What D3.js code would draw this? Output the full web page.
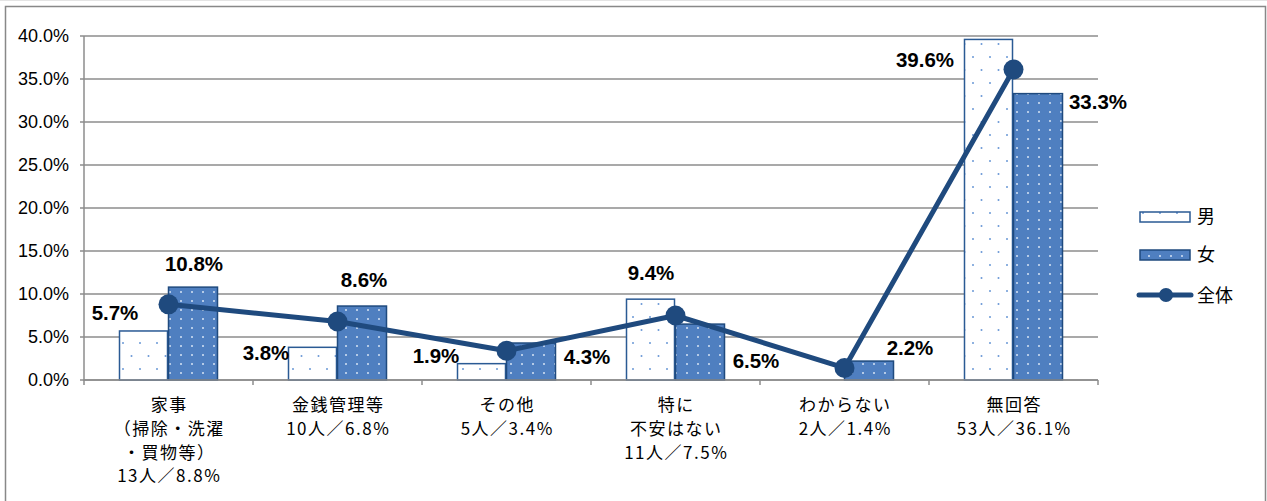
<!DOCTYPE html>
<html><head><meta charset="utf-8">
<script src="https://cdn.jsdelivr.net/npm/d3@7"></script>
<style>body{margin:0;background:#fff}svg{display:block}</style>
</head><body>
<svg id="c" width="1267" height="501"></svg>
<script>
const categories = [
  ["家事","（掃除・洗濯","・買物等）","13人／8.8%"],
  ["金銭管理等","10人／6.8%"],
  ["その他","5人／3.4%"],
  ["特に","不安はない","11人／7.5%"],
  ["わからない","2人／1.4%"],
  ["無回答","53人／36.1%"]
];
const maleValues   = [5.7, 3.8, 1.9, 9.4, 0, 39.6];
const femaleValues = [10.8, 8.6, 4.3, 6.5, 2.2, 33.3];
const totalValues  = [8.8, 6.8, 3.4, 7.5, 1.4, 36.1];
const yTicks = [0,5,10,15,20,25,30,35,40];
const seriesNames = ["男","女","全体"];
// label offsets (px) relative to bar-top center
const maleLabelOffsets   = [[-29,-18],[-47,6],[-46,-8],[0,-26],null,[-64,20]];
const femaleLabelOffsets = [[1,-23],[2,-26],[56,14],[56,37],[41,-13],[60,8]];

const svg = d3.select("#c");
const defs = svg.append("defs");
const pm = defs.append("pattern").attr("id","pm").attr("patternUnits","userSpaceOnUse")
  .attr("width",17).attr("height",26).attr("x",0).attr("y",0);
pm.append("rect").attr("width",17).attr("height",26).attr("fill","#fff");
pm.append("circle").attr("cx",4).attr("cy",5).attr("r",1).attr("fill","#6a98d6");
pm.append("circle").attr("cx",12.5).attr("cy",18).attr("r",1).attr("fill","#6a98d6");
const pf = defs.append("pattern").attr("id","pf").attr("patternUnits","userSpaceOnUse")
  .attr("width",11).attr("height",9);
pf.append("rect").attr("width",11).attr("height",9).attr("fill","#4f7fc0");
pf.append("circle").attr("cx",5).attr("cy",4).attr("r",1).attr("fill","#d6e3f5");

// outer frame
svg.append("line").attr("x1",0).attr("x2",1267).attr("y1",0.5).attr("y2",0.5).attr("stroke","#e4e4e4");
svg.append("path").attr("d","M5.5,501 V6.5 H1265.5 V501").attr("fill","none").attr("stroke","#888").attr("stroke-width",1.5);

const L=84, R=1098, T=36, B=380;
const x = d3.scaleBand().domain(d3.range(categories.length)).range([L,R]).paddingInner(0).paddingOuter(0);
const y = d3.scaleLinear().domain([0,40]).range([B,T]);
const bw = 49;

// gridlines
svg.append("g").selectAll("line").data(yTicks).join("line")
  .attr("x1",L-4).attr("x2",R).attr("y1",d=>y(d)).attr("y2",d=>y(d))
  .attr("stroke","#8c8c8c").attr("stroke-width",1.5);
// y axis line
svg.append("line").attr("x1",L).attr("x2",L).attr("y1",T).attr("y2",B+1).attr("stroke","#8c8c8c").attr("stroke-width",1.5);
// y labels
svg.append("g").selectAll("text").data(yTicks).join("text")
  .attr("x",69).attr("y",d=>y(d)).attr("dy","0.35em").attr("text-anchor","end")
  .attr("font-family","Liberation Sans, Arial, sans-serif").attr("font-size",18).attr("fill","#000")
  .text(d=>d.toFixed(1)+"%");
// x ticks
svg.append("g").selectAll("line").data(d3.range(categories.length+1)).join("line")
  .attr("x1",d=>L+d*x.bandwidth()).attr("x2",d=>L+d*x.bandwidth()).attr("y1",B).attr("y2",B+5)
  .attr("stroke","#8c8c8c").attr("stroke-width",1.5);

const cx = i => x(i)+x.bandwidth()/2;
// bars
svg.append("g").selectAll("rect").data(maleValues.map((v,i)=>({v,i})).filter(d=>d.v>0)).join("rect")
  .attr("x",d=>cx(d.i)-bw).attr("width",bw-1)
  .attr("y",d=>y(d.v)).attr("height",d=>B-y(d.v))
  .attr("fill","url(#pm)").attr("stroke","#2a5a94").attr("stroke-width",1.5);
svg.append("g").selectAll("rect").data(femaleValues).join("rect")
  .attr("x",(d,i)=>cx(i)).attr("width",bw)
  .attr("y",d=>y(d)).attr("height",d=>B-y(d))
  .attr("fill","url(#pf)").attr("stroke","#1f4a7e").attr("stroke-width",1.5);
// redraw axis baseline
svg.append("line").attr("x1",L).attr("x2",R).attr("y1",B).attr("y2",B).attr("stroke","#8c8c8c").attr("stroke-width",1.5);

// total line
const line = d3.line().x((d,i)=>cx(i)).y(d=>y(d));
svg.append("path").datum(totalValues).attr("d",line).attr("fill","none")
  .attr("stroke","#1f4a7e").attr("stroke-width",5).attr("stroke-linejoin","round");
svg.append("g").selectAll("circle").data(totalValues).join("circle")
  .attr("cx",(d,i)=>cx(i)).attr("cy",d=>y(d)).attr("r",10).attr("fill","#1f4a7e");

// data labels
const lblFont = "Liberation Sans, Arial, sans-serif";
maleValues.forEach((v,i)=>{
  const o = maleLabelOffsets[i]; if(!o||v<=0) return;
  svg.append("text").attr("x",cx(i)-bw/2+o[0]).attr("y",y(v)+o[1]).attr("dy","0.35em")
    .attr("text-anchor","middle").attr("font-family",lblFont).attr("font-weight","bold")
    .attr("font-size",20.5).text(v.toFixed(1)+"%");
});
femaleValues.forEach((v,i)=>{
  const o = femaleLabelOffsets[i];
  svg.append("text").attr("x",cx(i)+bw/2+o[0]).attr("y",y(v)+o[1]).attr("dy","0.35em")
    .attr("text-anchor","middle").attr("font-family",lblFont).attr("font-weight","bold")
    .attr("font-size",20.5).text(v.toFixed(1)+"%");
});

// category labels
const cjk = "'Noto Sans CJK JP', sans-serif";
categories.forEach((lines,i)=>{
  const t = svg.append("text").attr("text-anchor","middle").attr("font-family",cjk)
    .attr("font-size",17).attr("letter-spacing","1.5px").attr("fill","#000");
  lines.forEach((s,k)=>{
    t.append("tspan").attr("x",cx(i)+0.75).attr("y",405+k*23.8).attr("dy","0.35em").text(s);
  });
});

// legend
const lg = svg.append("g");
lg.append("rect").attr("x",1140).attr("y",212).attr("width",50).attr("height",10)
  .attr("fill","url(#pm)").attr("stroke","#2a5a94").attr("stroke-width",1.5);
lg.append("rect").attr("x",1140).attr("y",250).attr("width",50).attr("height",10)
  .attr("fill","url(#pf)").attr("stroke","#1f4a7e").attr("stroke-width",1.5);
lg.append("line").attr("x1",1139).attr("x2",1191).attr("y1",295).attr("y2",295)
  .attr("stroke","#1f4a7e").attr("stroke-width",5).attr("stroke-linecap","round");
lg.append("circle").attr("cx",1166).attr("cy",295).attr("r",7).attr("fill","#1f4a7e");
[217,255,296].forEach((yy,k)=>{
  lg.append("text").attr("x",1197).attr("y",yy).attr("dy","0.35em").attr("font-family",cjk)
    .attr("font-size",18).attr("fill","#000").text(seriesNames[k]);
});
</script>
</body></html>
